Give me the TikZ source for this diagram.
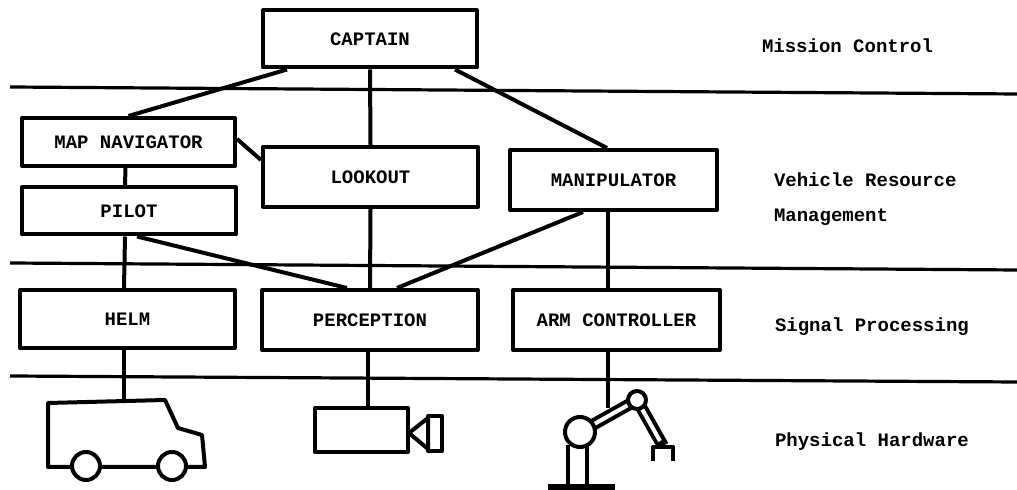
\documentclass[tikz,border=0pt]{standalone}
\usepackage{fontspec}
\setmonofont{Liberation Mono}

\begin{document}
\begin{tikzpicture}[x=0.5pt, y=-0.5pt, line width=2pt, line join=round,
		unit/.style={draw, rectangle, inner sep=0pt, font=\ttfamily\bfseries\fontsize{9.5}{11}\selectfont},
		layer/.style={anchor=west, inner sep=0pt, font=\ttfamily\bfseries\fontsize{9.5}{11}\selectfont},
		sep/.style={line width=1.6pt}]
		\useasboundingbox (0,0) rectangle (1017,490);

		% layer separators
		\draw[sep] (10,87) -- (1017,94);
		\draw[sep] (10,263) -- (1017,270);
		\draw[sep] (10,376) -- (1017,382);

		\node[unit, minimum width=107pt, minimum height=28.5pt] (captain) at (370,39) {CAPTAIN};
		\node[unit, minimum width=106.5pt, minimum height=24pt] (mapnav) at (128.5,142) {MAP NAVIGATOR};
		\node[unit, minimum width=107pt, minimum height=23.5pt] (pilot) at (129,211) {PILOT};
		\node[unit, minimum width=107.5pt, minimum height=30pt] (lookout) at (370.5,177) {LOOKOUT};
		\node[unit, minimum width=103.5pt, minimum height=30pt] (manipulator) at (613.5,180) {MANIPULATOR};
		\node[unit, minimum width=107.5pt, minimum height=29pt] (helm) at (127.5,319) {HELM};
		\node[unit, minimum width=108pt, minimum height=30pt] (perception) at (370,320) {PERCEPTION};
		\node[unit, minimum width=103.5pt, minimum height=30pt] (armctrl) at (616.5,320) {ARM CONTROLLER};

		\node[layer] (mission) at (760,46) {Mission Control};
		\node[layer] (vehicle) at (772,180) {Vehicle Resource};
		\node[layer] (management) at (772,217) {Management};
		\node[layer] (signal) at (773,327) {Signal Processing};
		\node[layer] (physical) at (773,442) {Physical Hardware};

		\coordinate (van) at (124,402);
		\coordinate (cam) at (368,408);
		\coordinate (arm) at (608,408);

		\draw[-] ([xshift=-41.5pt]captain.south) to (mapnav.north);
		\draw[-] (captain.south) to (lookout.north);
		\draw[-] ([xshift=42.5pt]captain.south) to ([xshift=-3.25pt]manipulator.north);
		\draw[-] ([yshift=1.5pt]mapnav.east) to ([yshift=8.5pt]lookout.west);
		\draw[-] ([xshift=-1.5pt]mapnav.south) to ([xshift=-2pt]pilot.north);
		\draw[-] ([xshift=4pt]pilot.south) to ([xshift=-11.5pt]perception.north);
		\draw[-] (lookout.south) to (perception.north);
		\draw[-] ([xshift=-15.25pt]manipulator.south) to ([xshift=13.5pt]perception.north);
		\draw[-] ([xshift=-2.75pt]manipulator.south) to ([xshift=-4.25pt]armctrl.north);
		\draw[-] ([xshift=-1.75pt]helm.north) to ([xshift=-2pt]pilot.south);
		\draw[-] ([xshift=-1.75pt]helm.south) to (van);
		\draw[-] ([xshift=-1pt]perception.south) to (cam);
		\draw[-] ([xshift=-4.25pt]armctrl.south) to (arm);

		% van
		\draw (48,403) -- (165,400) -- (178,428) -- (202,435) -- (205,467) -- (48,467) -- cycle;
		\draw[fill=white] (86,466) circle (7pt);
		\draw[fill=white] (172,466) circle (7pt);

		% camera
		\draw (315,408) rectangle (408,452);
		\draw (409,433) -- (428,418) -- (428,449) -- cycle;
		\draw (428,416) rectangle (442,451);

		% robot arm
		\draw[line width=3pt] (548,487) -- (615,487);
		\draw (568,445) -- (568,487) (587,445) -- (587,487);
		\draw[line width=6pt] (580,432) -- (637,400) -- (663,446);
		\draw[white, line width=2pt] (580,432) -- (637,400) -- (660,441);
		\draw[fill=white] (580,432) circle (7.5pt);
		\draw[fill=white] (637,400) circle (4.5pt);
		\draw (653,461) -- (653,447) -- (673,447) -- (673,461);

	\end{tikzpicture}
\end{document}
